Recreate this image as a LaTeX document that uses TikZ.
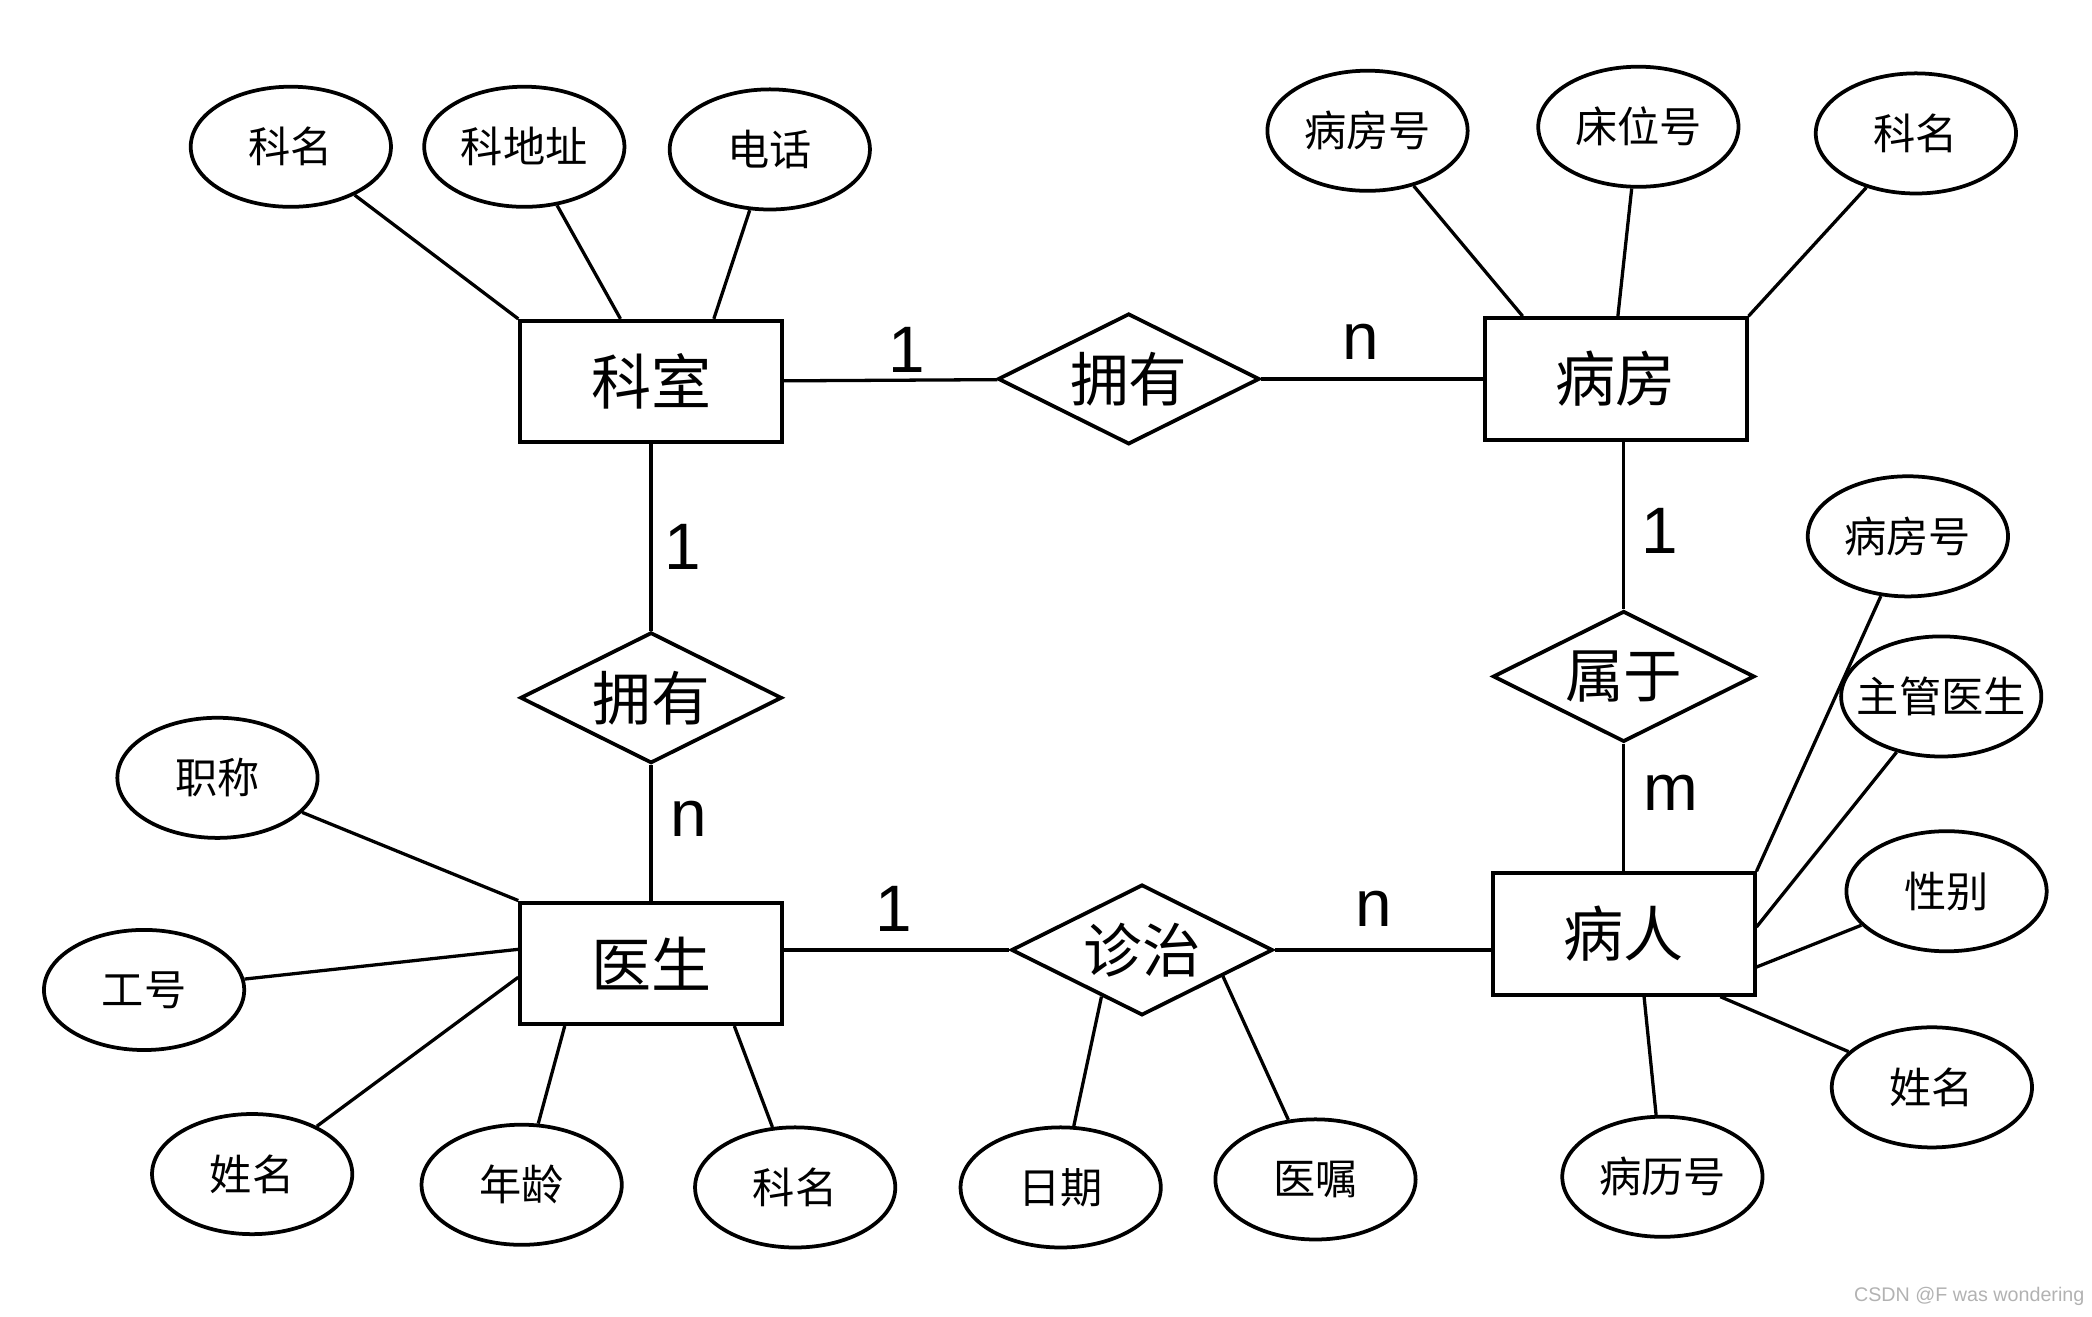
\documentclass[tikz,border=0pt]{standalone}
\usepackage{fontspec}
\setmainfont{Noto Sans CJK SC}
\newfontfamily\numfont{Liberation Sans}
\usetikzlibrary{shapes,positioning}

\begin{document}
\begin{tikzpicture}[-,x=0.01cm,y=-0.01cm,
line width=0.7pt]

\tikzstyle{entity}=[rectangle, minimum width=1.96cm, minimum height=0.91cm, text centered,
draw, line width=0.85pt, inner sep=0pt, font=\fontsize{12.8}{14}\selectfont]
\tikzstyle{relation}=[diamond, minimum width=1.96cm, minimum height=0.98cm,
draw, line width=0.8pt, inner sep=-3pt, font=\fontsize{12.5}{14}\selectfont]
\tikzstyle{attr}=[ellipse, minimum width=1.5cm, minimum height=0.9cm,
draw, line width=0.8pt, inner sep=-0.2cm, font=\fontsize{9}{11}\selectfont]
\tikzstyle{card}=[inner sep=0pt, font=\numfont\fontsize{14}{16}\selectfont]

\useasboundingbox (0,0) rectangle (1568,987);

%entities
\node[entity] (keshi) at (488,286) {科室};
\node[entity] (bingfang) at (1211,284) {病房};
\node[entity] (yisheng) at (488,722) {医生};
\node[entity] (bingren) at (1217,700) {病人};

%relations
\node[relation] (yongyou1) at (846,284) {拥有};
\node[relation] (yongyou2) at (488,523) {拥有};
\node[relation] (shuyu) at (1217,507) {属于};
\node[relation] (zhenzhi) at (856,712) {诊治};

%attributes
\node[attr] (ks-km) at (218,110) {科名};
\node[attr] (ks-dz) at (393,110) {科地址};
\node[attr] (ks-dh) at (577,112) {电话};
\node[attr] (bf-bfh) at (1025,98) {病房号};
\node[attr] (bf-cwh) at (1228,95) {床位号};
\node[attr] (bf-km) at (1436,100) {科名};
\node[attr] (br-bfh) at (1430,402) {病房号};
\node[attr] (br-zg) at (1455,522) {主管医生};
\node[attr] (br-xb) at (1459,668) {性别};
\node[attr] (br-xm) at (1448,815) {姓名};
\node[attr] (br-blh) at (1246,882) {病历号};
\node[attr] (zz-yz) at (986,884) {医嘱};
\node[attr] (zz-rq) at (795,890) {日期};
\node[attr] (ys-km) at (596,890) {科名};
\node[attr] (ys-nl) at (391,888) {年龄};
\node[attr] (ys-xm) at (189,880) {姓名};
\node[attr] (ys-gh) at (108,742) {工号};
\node[attr] (ys-zc) at (163,583) {职称};

%cardinalities
\node[card] (c-ks1) at (680,262) {1};
\node[card] (c-bfn) at (1020,256) {n};
\node[card] (c-ks2) at (512,410) {1};
\node[card] (c-ysn) at (516,614) {n};
\node[card] (c-bf1) at (1244,398) {1};
\node[card] (c-brm) at (1252,594) {m};
\node[card] (c-ys1) at (670,681) {1};
\node[card] (c-brn) at (1030,681) {n};

\node[text=black!30, font=\numfont\fontsize{4.2}{5}\selectfont]
(mark) at (1476,972)
{CSDN @F was wondering};

\path (keshi) edge (yongyou1);
\path (yongyou1) edge (bingfang);
\path (keshi) edge (yongyou2);
\path (yongyou2) edge (yisheng);
\path (shuyu.north) edge (shuyu.north |- bingfang.south);
\path (shuyu.south) edge (bingren.north);
\path (yisheng.east |- zhenzhi.west) edge (zhenzhi.west);
\path (zhenzhi.east) edge (zhenzhi.east -| bingren.west);

\path (ks-km) edge (keshi.north west);
\path (ks-dz) edge (keshi.116);
\path (ks-dh) edge (keshi.45);
\path (bf-bfh) edge (bingfang.146);
\path (bf-cwh) edge (bingfang.88);
\path (bf-km) edge (bingfang.north east);
\path (br-bfh) edge (bingren.north east);
\path (br-zg) edge (bingren.3);
\path (br-xb) edge (bingren.-14);
\path (br-xm) edge (bingren.-33.5);
\path (br-blh) edge (bingren.-72);
\path (zhenzhi.229) edge (zz-rq);
\path (zhenzhi.-18.6) edge (zz-yz);
\path (ys-zc) edge (yisheng.north west);
\path (ys-gh) edge (yisheng.174.5);
\path (ys-xm) edge (yisheng.186);
\path (ys-nl) edge (yisheng.216.7);
\path (ys-km) edge (yisheng.-37.6);

\end{tikzpicture}
\end{document}
